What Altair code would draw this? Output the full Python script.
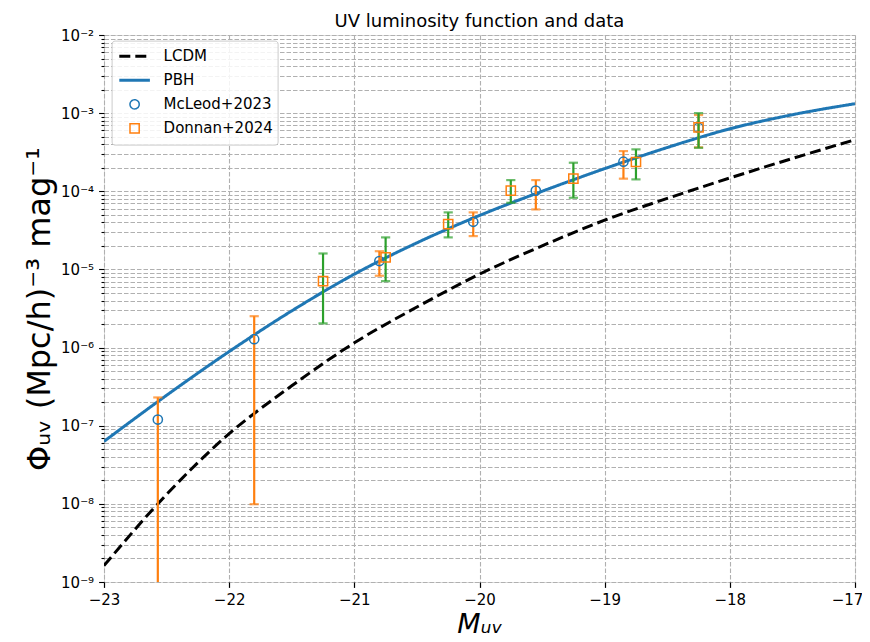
import altair as alt
import pandas as pd

# ---------------- data ----------------
SERIES = ["LCDM", "PBH", "McLeod+2023", "Donnan+2024"]

m_curve = [-23.0, -22.5, -22.0, -21.5, -21.0, -20.5, -20.0, -19.5, -19.0, -18.5, -18.0, -17.5, -17.0]
phi_lcdm = [1.62e-9, 1.32e-8, 7.9e-8, 3.24e-7, 1.15e-6, 3.3e-6, 8.7e-6, 2.0e-5, 4.27e-5, 8.1e-5, 1.48e-4, 2.63e-4, 4.57e-4]
phi_pbh = [6.3e-8, 2.45e-7, 8.9e-7, 2.95e-6, 8.7e-6, 2.19e-5, 4.9e-5, 1.0e-4, 1.95e-4, 3.63e-4, 6.3e-4, 9.55e-4, 1.32e-3]

mcleod_m = [-22.57, -21.80, -20.80, -20.05, -19.55, -18.85, -18.25]
mcleod_phi = [1.2e-7, 1.28e-6, 1.28e-5, 4.07e-5, 1.02e-4, 2.39e-4, 6.5e-4]
mcleod_hi = [2.3e-7, 2.52e-6, 1.71e-5, 5.37e-5, 1.39e-4, 3.27e-4, 9.46e-4]
mcleod_lo = [1e-12, 9.9e-9, 8.3e-6, 2.67e-5, 5.86e-5, 1.45e-4, 3.65e-4]

donnan_m = [-21.25, -20.75, -20.25, -19.75, -19.25, -18.75, -18.25]
donnan_phi = [7.08e-6, 1.43e-5, 3.8e-5, 1.02e-4, 1.45e-4, 2.37e-4, 6.58e-4]
donnan_hi = [1.6e-5, 2.57e-5, 5.37e-5, 1.39e-4, 2.32e-4, 3.44e-4, 1.0e-3]
donnan_lo = [2.04e-6, 7.08e-6, 2.57e-5, 7.13e-5, 8.26e-5, 1.42e-4, 3.6e-4]

x_ticks = [-23, -22, -21, -20, -19, -18, -17]
y_decades = [1e-9, 1e-8, 1e-7, 1e-6, 1e-5, 1e-4, 1e-3, 1e-2]
y_minor_mult = [2, 3, 4, 5, 6, 7, 8, 9]

# ---------------- tables ----------------
curves = pd.concat([
    pd.DataFrame({"M": m_curve, "phi": phi_lcdm, "series": "LCDM"}),
    pd.DataFrame({"M": m_curve, "phi": phi_pbh, "series": "PBH"}),
])
mcleod = pd.DataFrame({"M": mcleod_m, "phi": mcleod_phi, "lo": mcleod_lo,
                       "hi": mcleod_hi, "series": "McLeod+2023"})
donnan = pd.DataFrame({"M": donnan_m, "phi": donnan_phi, "lo": donnan_lo,
                       "hi": donnan_hi, "series": "Donnan+2024"})

y_values = []
for d in y_decades:
    y_values.append(d)
    if d < 1e-2:
        y_values.extend([d * k for k in y_minor_mult])

FONT = "DejaVu Sans"
GRID = dict(grid=True, gridDash=[4.5, 2], gridColor="#b0b0b0", gridWidth=1.1)

DEC = "abs(log(datum.value)/LN10 - round(log(datum.value)/LN10)) < 0.001"
SUP = "['⁰','¹','²','³','⁴','⁵','⁶','⁷','⁸','⁹']"
label_expr = f"({DEC}) ? '10⁻' + {SUP}[-round(log(datum.value)/LN10)] : ''"

x_axis = alt.Axis(values=x_ticks, tickSize=5.4, tickColor="black", tickWidth=1.2,
                  domain=False, labelFont=FONT, labelFontSize=15, labelColor="black",
                  labelPadding=5, labelFlush=False,
                  labelOffset={"condition": {"test": "datum.value >= -17", "value": -8}, "value": 0},
                  title="Mᵤᵥ", titleFont=FONT,
                  titleFontSize=27, titleFontStyle="italic", titleFontWeight="normal",
                  titleColor="black", titlePadding=4, **GRID)
y_axis = alt.Axis(values=y_values, labelExpr=label_expr, labelOverlap=False,
                  tickSize={"condition": {"test": DEC, "value": 5.4}, "value": 3},
                  tickColor="black", tickWidth=1.1, domain=False, labelFont=FONT,
                  labelFontSize=15, labelColor="black", labelPadding=5, labelFlush=False,
                  title="Φᵤᵥ (Mpc/h)⁻³ mag⁻¹", titleFont=FONT, titleFontSize=32,
                  titleFontWeight="normal", titleColor="black", titlePadding=4, **GRID)

x_scale = alt.Scale(domain=[-23, -17], nice=False, zero=False)
y_scale = alt.Scale(type="log", domain=[1e-9, 1e-2], nice=False)

legend = alt.Legend(title=None, orient="none", legendX=7.6, legendY=5.6,
                    fillColor="rgba(255,255,255,0.85)", strokeColor="#cccccc",
                    cornerRadius=3, padding=4, symbolOffset=2, labelFont=FONT,
                    labelFontSize=15, labelColor="black", labelOffset=12, rowPadding=0,
                    clipHeight=23.5)

color = alt.Color("series:N", legend=legend,
                  scale=alt.Scale(domain=SERIES, range=["black", "#1f77b4", "#1f77b4", "#ff7f0e"]))
dash = alt.StrokeDash("series:N", legend=legend,
                      scale=alt.Scale(domain=SERIES, range=[[11, 5], [1, 0], [1, 0], [1, 0]]))
swidth = alt.StrokeWidth("series:N", legend=legend,
                         scale=alt.Scale(type="ordinal", domain=SERIES, range=[3, 3, 1.5, 1.5]))
shape = alt.Shape("series:N", legend=legend,
                  scale=alt.Scale(domain=SERIES, range=["stroke", "stroke", "circle", "square"]))
size = alt.Size("series:N", legend=legend,
                scale=alt.Scale(type="ordinal", domain=SERIES, range=[936, 936, 85, 85]))

X = alt.X("M:Q", scale=x_scale, axis=x_axis)


def Y(field):
    return alt.Y(f"{field}:Q", scale=y_scale, axis=y_axis)


lines = alt.Chart(curves).mark_line(interpolate="monotone", clip=True).encode(
    x=X, y=Y("phi"), color=color, strokeDash=dash, strokeWidth=swidth, detail="series:N")


def data_layers(df, ecolor):
    base = alt.Chart(df)
    bars = base.mark_rule(color=ecolor, strokeWidth=2.2, clip=True).encode(
        x=X, y=Y("lo"), y2="hi:Q")
    caps = base.transform_fold(["lo", "hi"], as_=["which", "val"]).mark_tick(
        color=ecolor, thickness=2.2, size=9.2, orient="horizontal", clip=True).encode(
        x=X, y=Y("val"))
    pts = base.mark_point(filled=False, clip=True, opacity=1).encode(
        x=X, y=Y("phi"), color=color, shape=shape, size=size, strokeWidth=swidth)
    return [bars, caps, pts]


chart = alt.layer(
    lines, *data_layers(mcleod, "#ff7f0e"), *data_layers(donnan, "#2ca02c")
).properties(
    width=751, height=547,
    padding={"left": 96, "top": 27, "right": 7, "bottom": 58},
    autosize=alt.AutoSizeParams(type="none"),
    title=alt.TitleParams("UV luminosity function and data", font=FONT, fontSize=18,
                          fontWeight="normal", color="black", anchor="middle",
                          frame="group", offset=0, dy=3),
).configure_view(stroke="black", strokeWidth=1.2).configure(font=FONT, background="white")

chart.save("out.html", embed_options={"renderer": "svg", "actions": False})
